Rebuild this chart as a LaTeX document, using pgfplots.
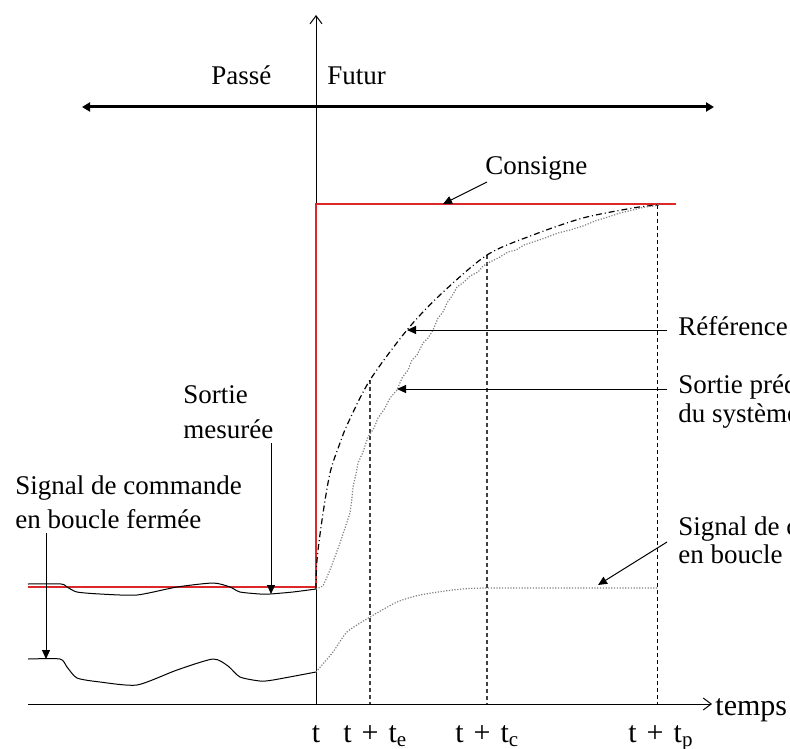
\documentclass[border=0pt]{standalone}
\usepackage{fontspec}
\setmainfont{Liberation Serif}
\usepackage{pgfplots}
\pgfplotsset{compat=1.18}
\usetikzlibrary{arrows.meta}

\definecolor{consigne}{RGB}{220,40,40}

\begin{document}
\begin{tikzpicture}[
  lbl/.style={font=\fontsize{13.5}{16}\selectfont, inner sep=0pt},
  tck/.style={font=\fontsize{15}{17}\selectfont, inner sep=0pt},
  fleche/.style={line width=0.5pt, -{Triangle[length=4.5pt,width=4pt]}},
]
\begin{axis}[
  width=395pt, height=374pt, scale only axis,
  xmin=0, xmax=790, ymin=0, ymax=748, y dir=reverse,
  hide axis,
]
  % axes du temps
  \draw[line width=0.5pt, -{Straight Barb[length=4pt,width=6pt]}] (28,704) -- (712,704);
  \draw[line width=0.5pt, -{Straight Barb[length=4pt,width=6pt]}] (316,704) -- (316,15);
  \draw[line width=1.5pt, {Triangle[length=4pt,width=4.5pt]}-{Triangle[length=4pt,width=4.5pt]}] (82,107) -- (714,107);
  \node[lbl, anchor=base west] at (211,85) {Passé};
  \node[lbl, anchor=base west] at (327,85) {Futur};

  % horizons
  \draw[gray!50!black, line width=0.6pt, dash pattern=on 2pt off 1.5pt] (370,380) -- (370,704);
  \draw[gray!50!black, line width=0.6pt, dash pattern=on 2pt off 1.5pt] (487,255) -- (487,704);
  \draw[black, line width=0.5pt, dash pattern=on 2pt off 1.5pt] (657,205) -- (657,704);

  % consigne
  \addplot[consigne, line width=0.7pt] coordinates {
    (28,587) (316,587) (316,204) (676,204)
  };

  % sortie mesuree (passe)
  \addplot[black, line width=0.5pt, smooth, tension=0.4] coordinates {
    (28,584) (61,584) (67,587) (77,592) (100,594) (137,595) (177,587) (213,583)
    (230,587) (240,592) (260,594) (270,594) (293,592) (316,589)
  };

  % signal de commande (passe)
  \addplot[black, line width=0.5pt, smooth, tension=0.4] coordinates {
    (28,659) (60,659) (67,667) (77,678) (100,682) (137,685) (177,670) (213,659)
    (228,666) (240,677) (260,681) (273,680) (316,672)
  };

  % reference
  \addplot[black, line width=0.6pt, smooth, dash pattern=on 3pt off 1.5pt on 0.5pt off 1.5pt] coordinates {
    (316,589) (317,560) (322,520) (330,473) (340,443) (348,423) (370,380) (407,330)
    (440,295) (487,255) (533,235) (583,218) (633,208) (657,205)
  };

  % sortie predite
  \addplot[gray, line width=0.6pt, dash pattern=on 0.6pt off 0.8pt] coordinates {
    (316,589) (323,586) (330,570) (340,543) (347,522) (350,513) (352,498) (353,487)
    (356,474) (358,463) (363,452) (368,437) (374,428) (378,418) (385,408) (390,398)
    (397,390) (402,378) (408,370) (412,360) (417,355) (423,343) (428,338) (433,330)
    (438,318) (443,312) (447,303) (452,296) (457,287) (464,282) (470,276) (478,272)
    (483,266) (490,262) (500,257) (508,252) (516,250) (524,245) (533,242) (545,238)
    (558,233) (570,230) (583,226) (595,221) (608,217) (620,213) (633,210) (645,207) (660,205)
  };

  % signal de commande (futur)
  \addplot[gray, line width=0.6pt, smooth, tension=0.4, dash pattern=on 0.6pt off 0.8pt] coordinates {
    (316,672) (333,652) (347,632) (370,617) (397,602) (420,595) (453,590) (487,588) (657,588)
  };

  % annotations
  \draw[fleche] (487,182) -- (443,204);
  \node[lbl, anchor=base west] at (485,175) {Consigne};

  \draw[fleche] (667,330) -- (407,330);
  \node[lbl, anchor=base west] at (678,335) {Référence};

  \draw[fleche] (667,389) -- (397,389);
  \node[lbl, anchor=base west] at (678,393) {Sortie prédite};
  \node[lbl, anchor=base west] at (678,422) {du système};

  \draw[fleche] (667,542) -- (598,585);
  \node[lbl, anchor=base west] at (678,535) {Signal de commande};
  \node[lbl, anchor=base west] at (678,563) {en boucle fermée};

  \draw[fleche] (271,443) -- (271,594);
  \node[lbl, anchor=base west] at (183,403) {Sortie};
  \node[lbl, anchor=base west] at (183,438) {mesurée};

  \draw[fleche] (46,533) -- (46,659);
  \node[lbl, anchor=base west] at (15,494) {Signal de commande};
  \node[lbl, anchor=base west] at (15,528) {en boucle fermée};

  % graduations
  \node[tck, anchor=base west] at (715,715) {temps};
  \node[tck, anchor=base] at (316,742) {t};
  \node[tck, anchor=base west] at (343,742) {t\,\,+\,\,t\textsubscript{e}};
  \node[tck, anchor=base west] at (455,742) {t\,\,+\,\,t\textsubscript{c}};
  \node[tck, anchor=base west] at (628,742) {t\,\,+\,\,t\textsubscript{p}};
\end{axis}
\pgfresetboundingbox
\useasboundingbox (current axis.south west) rectangle (current axis.north east);
\end{tikzpicture}
\end{document}
